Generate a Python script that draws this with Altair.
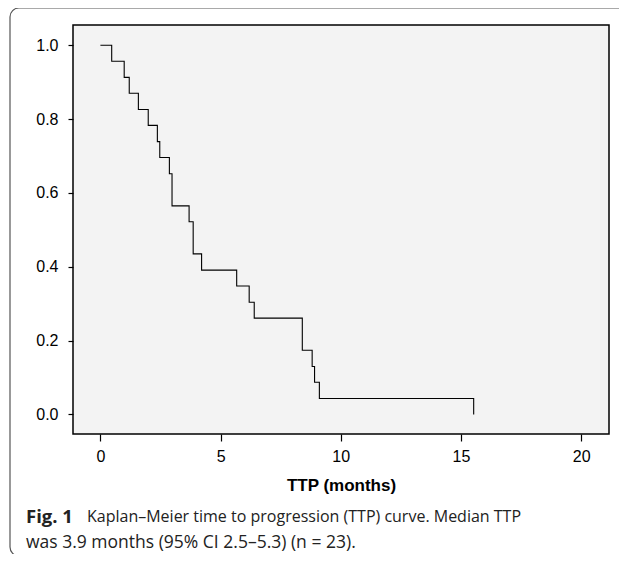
import altair as alt
import pandas as pd

# Kaplan-Meier step curve (time in months, survival proportion)
times = [0.0, 0.47, 0.99, 1.20, 1.58, 1.99, 2.37, 2.47, 2.87, 2.98, 3.69, 3.86,
         4.21, 5.67, 6.19, 6.40, 8.40, 8.81, 8.91, 9.11, 15.53]
survival = [1.0, 0.957, 0.913, 0.870, 0.826, 0.783, 0.739, 0.696, 0.652, 0.565,
            0.522, 0.435, 0.391, 0.348, 0.304, 0.261, 0.174, 0.130, 0.087, 0.043, 0.0]

x_ticks = [0, 5, 10, 15, 20]
y_ticks = [0.0, 0.2, 0.4, 0.6, 0.8, 1.0]

x_title = "TTP (months)"
caption_bold = "Fig. 1"
caption_line1 = "Kaplan\u2013Meier time to progression (TTP) curve. Median TTP"
caption_line2 = "was 3.9 months (95% CI 2.5\u20135.3) (n = 23)."

df = pd.DataFrame({"t": times, "s": survival})

W, H = 536, 409
AXIS_FONT = "Liberation Sans"
CAP_FONT = "Open Sans"

curve = alt.Chart(df).mark_line(
    interpolate="step-after", color="#000000", strokeWidth=1.1
).encode(
    x=alt.X("t:Q",
            scale=alt.Scale(domain=[-1.14, 21.16], nice=False, zero=False),
            axis=alt.Axis(values=x_ticks, title=x_title, grid=False, domain=False,
                          tickColor="#000", tickSize=7, tickWidth=1.2,
                          labelFont=AXIS_FONT, labelFontSize=16, labelColor="#000",
                          labelPadding=7, titleFont=AXIS_FONT, titleFontSize=17,
                          titleFontWeight="bold", titleColor="#000", titlePadding=13)),
    y=alt.Y("s:Q",
            scale=alt.Scale(domain=[-0.053, 1.055], nice=False, zero=False),
            axis=alt.Axis(values=y_ticks, format=".1f", title=None, grid=False,
                          domain=False, tickColor="#000", tickSize=5, tickWidth=1.2,
                          labelFont=AXIS_FONT, labelFontSize=16, labelColor="#000",
                          labelPadding=10)),
)

one = pd.DataFrame({"a": [0]})

border = alt.Chart(one).mark_rect(
    fill="transparent", stroke="#555555", strokeWidth=1.2, cornerRadius=9
).encode(
    x=alt.value(-63), x2=alt.value(W + 40),
    y=alt.value(-17), y2=alt.value(531),
)

cap_b = alt.Chart(pd.DataFrame({"txt": [caption_bold]})).mark_text(
    align="left", baseline="middle", font=CAP_FONT, fontSize=18.5,
    fontWeight="bold", color="#222"
).encode(x=alt.value(-47), y=alt.value(492), text="txt:N")

cap_1 = alt.Chart(pd.DataFrame({"txt": [caption_line1]})).mark_text(
    align="left", baseline="middle", font=CAP_FONT, fontSize=16, color="#222"
).encode(x=alt.value(14), y=alt.value(492), text="txt:N")

cap_2 = alt.Chart(pd.DataFrame({"txt": [caption_line2]})).mark_text(
    align="left", baseline="middle", font=CAP_FONT, fontSize=17.5, color="#222"
).encode(x=alt.value(-47), y=alt.value(518), text="txt:N")

chart = alt.layer(border, curve, cap_b, cap_1, cap_2).properties(
    width=W, height=H,
    autosize=alt.AutoSizeParams(type="none"),
    padding={"left": 65, "top": 17, "right": 10, "bottom": 120},
    background="#ffffff",
).configure_view(
    fill="#f3f3f3", stroke="#000000", strokeWidth=1.5
)

chart.save("out.html", embed_options={"renderer": "svg", "actions": False})
